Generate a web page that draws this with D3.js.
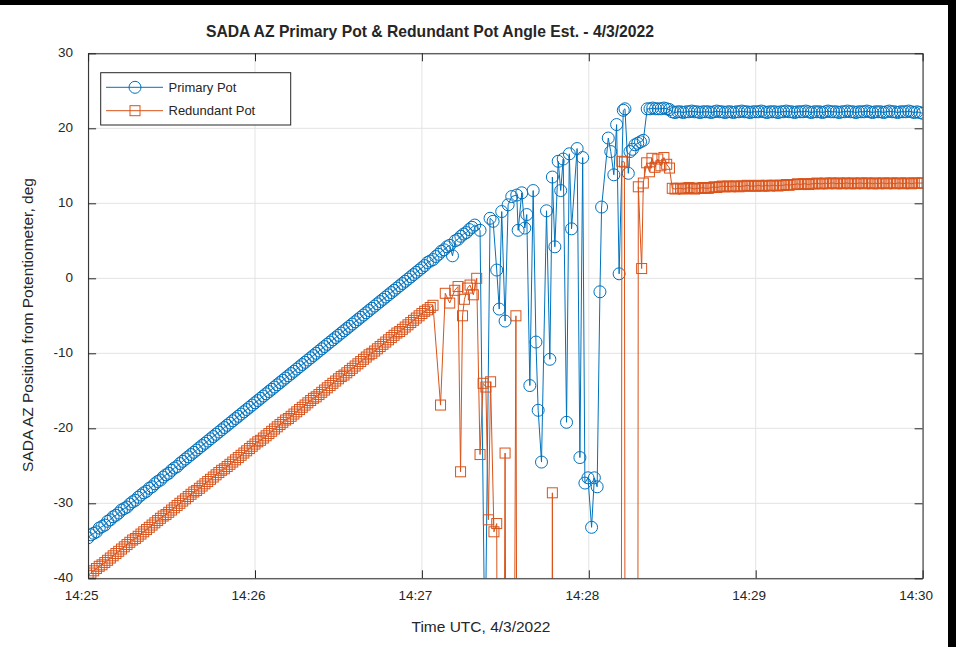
<!DOCTYPE html>
<html><head><meta charset="utf-8">
<script src="https://cdn.jsdelivr.net/npm/d3@7"></script>
<style>
body{margin:0;background:#fff}
svg{display:block}
text{font-family:"Liberation Sans",Arial,Helvetica,sans-serif;fill:#262626}
</style>
</head><body>
<svg id="chart" width="956" height="647"></svg>
<script>
// ---------------- DATA ----------------
const startTime = new Date(2022, 3, 3, 14, 25, 0);
const endTime = new Date(2022, 3, 3, 14, 30, 0);
const xTickLabels = ["14:25", "14:26", "14:27", "14:28", "14:29", "14:30"];
const yTickValues = [-40, -30, -20, -10, 0, 10, 20, 30];
const yTickLabels = ["-40", "-30", "-20", "-10", "0", "10", "20", "30"];
const seriesNames = ["Primary Pot", "Redundant Pot"];
const titleText = "SADA AZ Primary Pot & Redundant Pot Angle Est. - 4/3/2022";
const xLabelText = "Time UTC, 4/3/2022";
const yLabelText = "SADA AZ Position from Potentiometer, deg";

// Primary pot: 1-second samples from 14:25:00 (ramp)
const primaryRamp = [
 -34.6,-34.2,-34.0,-33.8,-33.3,-33.1,-32.9,-32.4,-32.2,-31.8,
 -31.6,-31.3,-30.9,-30.7,-30.5,-30.1,-29.8,-29.6,-29.2,-28.9,
 -28.6,-28.4,-28.0,-27.8,-27.4,-27.1,-26.9,-26.5,-26.2,-26.0,
 -25.6,-25.3,-25.1,-24.7,-24.4,-24.1,-23.8,-23.5,-23.2,-22.9,
 -22.6,-22.3,-22.0,-21.7,-21.4,-21.1,-20.8,-20.5,-20.2,-19.9,
 -19.6,-19.3,-19.0,-18.7,-18.4,-18.1,-17.8,-17.5,-17.2,-16.9,
 -16.6,-16.3,-16.0,-15.7,-15.4,-15.1,-14.8,-14.5,-14.2,-13.9,
 -13.6,-13.3,-13.0,-12.7,-12.4,-12.1,-11.8,-11.5,-11.2,-10.9,
 -10.6,-10.3,-10.0,-9.7,-9.4,-9.1,-8.8,-8.5,-8.2,-7.9,
 -7.6,-7.3,-7.0,-6.7,-6.4,-6.1,-5.8,-5.5,-5.2,-4.9,
 -4.6,-4.3,-4.0,-3.7,-3.4,-3.1,-2.8,-2.5,-2.2,-1.9,
 -1.6,-1.3,-1.0,-0.7,-0.4,-0.1,0.2,0.5,0.8,1.1,
 1.4,1.7,2.1,2.3,2.5,2.9,3.2,3.6,3.8,4.2,
 4.4,3.0,5.0,5.2,5.6,5.9,6.1,6.5,6.8,7.1
];
// Primary pot: erratic section (seconds after 14:25:00, value)
const primaryBurstSec = [
 140.9,142.7,144.5,145.6,146.9,147.8,148.7,149.9,151.0,152.3,
 154.1,154.6,155.9,157.0,157.7,158.8,160.0,161.0,161.8,163.0,
 164.8,166.0,166.9,167.8,169.0,169.9,170.8,172.0,173.0,173.8,
 175.8,176.8,177.8,178.6,179.7,181.0,182.0,183.0,184.0,184.6,
 187.0,187.9,189.0,190.0,190.9,192.4,193.0,194.2,194.8,195.7,
 196.6,197.6,198.6,199.6
];
const primaryBurstVal = [
 6.4,-51.6,8.0,7.6,1.1,-4.1,8.9,-5.7,9.8,10.9,
 11.1,6.4,11.4,6.7,8.5,-14.3,11.7,-8.5,-17.6,-24.5,
 9.0,-10.8,13.5,4.2,15.6,11.7,15.9,-19.2,16.6,6.6,
 17.3,-23.9,16.1,-27.3,-26.6,-33.2,-26.6,-27.8,-1.8,9.5,
 18.7,16.9,13.8,20.5,0.6,22.4,22.6,14.0,16.9,17.2,
 17.8,18.0,18.2,18.4
];
// Primary pot: 1-second samples from 14:28:21 (steady)
const primaryHoldStartSec = 201;
const primaryHold = [
 22.6,22.6,22.7,22.6,22.6,22.6,22.7,22.6,22.5,
 22.2,22.1,22.2,22.2,22.1,22.2,22.2,22.3,22.2,22.2,
 22.1,22.2,22.2,22.2,22.1,22.2,22.3,22.2,22.2,22.1,
 22.2,22.2,22.1,22.2,22.2,22.3,22.2,22.2,22.1,22.2,
 22.2,22.2,22.3,22.2,22.1,22.2,22.2,22.2,22.1,22.2,
 22.2,22.3,22.2,22.2,22.1,22.2,22.2,22.2,22.3,22.2,
 22.1,22.2,22.2,22.2,22.1,22.2,22.3,22.2,22.2,22.2,
 22.1,22.2,22.2,22.3,22.2,22.2,22.1,22.2,22.2,22.2,
 22.3,22.2,22.1,22.2,22.2,22.2,22.1,22.2,22.3,22.2,
 22.2,22.1,22.2,22.2,22.2,22.3,22.2,22.1,22.2,22.1,22.0
];

// Redundant pot: 1-second samples from 14:25:00 (ramp)
const redundantRamp = [
 -39.6,-39.3,-39.0,-38.7,-38.4,-38.2,-37.9,-37.6,-37.3,-37.0,
 -36.7,-36.4,-36.1,-35.8,-35.5,-35.2,-34.9,-34.7,-34.4,-34.1,
 -33.8,-33.5,-33.2,-32.9,-32.6,-32.3,-32.0,-31.7,-31.5,-31.2,
 -30.9,-30.6,-30.3,-30.0,-29.7,-29.4,-29.1,-28.8,-28.5,-28.3,
 -28.0,-27.7,-27.4,-27.1,-26.8,-26.5,-26.2,-25.9,-25.6,-25.4,
 -25.1,-24.8,-24.5,-24.2,-23.9,-23.6,-23.3,-23.0,-22.7,-22.4,
 -22.1,-21.8,-21.6,-21.3,-21.0,-20.7,-20.4,-20.1,-19.8,-19.5,
 -19.2,-18.9,-18.7,-18.4,-18.1,-17.8,-17.5,-17.2,-16.9,-16.6,
 -16.3,-16.0,-15.8,-15.5,-15.2,-14.9,-14.6,-14.3,-14.0,-13.7,
 -13.4,-13.1,-12.9,-12.6,-12.3,-12.0,-11.7,-11.4,-11.1,-10.8,
 -10.5,-10.2,-10.0,-9.7,-9.4,-9.1,-8.8,-8.5,-8.2,-7.9,
 -7.6,-7.3,-7.1,-6.8,-6.5,-6.2,-5.9,-5.6,-5.3,-5.0,
 -4.7,-4.4,-4.2,-3.9,-3.6
];
// Redundant pot: erratic section (seconds after 14:25:00, value)
const redundantBurstSec = [
 126.7,128.4,130.0,131.8,133.0,133.9,134.6,135.3,136.4,137.3,
 138.5,139.7,140.9,142.0,143.0,143.9,144.7,145.9,146.9,148.0,
 149.9,151.6,153.8,155.0,166.0,166.9,168.0,191.0,191.9,192.8,
 193.8,197.0,197.8,199.0,199.6,200.8,201.8,202.7,203.8,204.8,
 205.9,207.0,208.0,209.0
];
const redundantBurstVal = [
 -16.9,-2.0,-3.3,-1.6,-1.1,-25.8,-5.0,-2.8,-1.3,-0.9,
 -2.2,0.0,-23.5,-14.0,-14.5,-32.2,-13.8,-33.8,-32.7,-200,
 -23.3,-200,-5.0,-200,-200,-28.6,-200,-300,15.6,15.5,
 -300,-300,12.2,1.3,12.7,15.4,14.2,16.0,14.8,15.9,
 15.0,16.1,15.2,14.7
];
// Redundant pot: 1-second samples from 14:28:30 (steady)
const redundantHoldStartSec = 210;
const redundantHold = [
 12.0,11.9,12.0,12.0,11.9,12.0,12.1,12.0,11.9,12.0,
 12.0,12.1,12.0,12.0,12.1,12.2,12.1,12.2,12.3,12.2,
 12.3,12.2,12.3,12.3,12.2,12.3,12.3,12.4,12.3,12.3,
 12.3,12.4,12.3,12.3,12.4,12.3,12.4,12.4,12.3,12.4,
 12.4,12.5,12.4,12.5,12.5,12.6,12.5,12.6,12.6,12.5,
 12.6,12.6,12.7,12.6,12.6,12.7,12.6,12.7,12.7,12.6,
 12.7,12.6,12.7,12.7,12.6,12.7,12.6,12.7,12.7,12.6,
 12.7,12.7,12.6,12.7,12.6,12.7,12.7,12.6,12.7,12.7,
 12.6,12.7,12.7,12.6,12.7,12.7,12.6,12.7,12.7,12.7,12.7
];

// ---------------- BUILD ----------------
const sec = s => new Date(startTime.getTime() + s * 1000);
function buildSeries(ramp, bSec, bVal, holdStart, hold) {
  const pts = [];
  ramp.forEach((v, i) => pts.push({t: sec(i), v}));
  bSec.forEach((s, i) => pts.push({t: sec(s), v: bVal[i]}));
  hold.forEach((v, i) => pts.push({t: sec(holdStart + i), v}));
  return pts;
}
const primary = buildSeries(primaryRamp, primaryBurstSec, primaryBurstVal, primaryHoldStartSec, primaryHold);
const redundant = buildSeries(redundantRamp, redundantBurstSec, redundantBurstVal, redundantHoldStartSec, redundantHold);

const colors = ["#0072BD", "#D95319"];
const axisColor = "#262626";
const gridColor = "#e3e3e3";

const L = 88.1, R = 922.6, T = 53.3, B = 578.3;
const svg = d3.select("#chart");
svg.append("rect").attr("width", 956).attr("height", 647).attr("fill", "#fff");
// dark window frame visible at top and right edges of the reference
svg.append("rect").attr("x", 0).attr("y", 0).attr("width", 956).attr("height", 5).attr("fill", "#000");
svg.append("rect").attr("x", 948).attr("y", 0).attr("width", 8).attr("height", 647).attr("fill", "#000");

const x = d3.scaleTime().domain([startTime, endTime]).range([L, R]);
const y = d3.scaleLinear().domain([-40, 30]).range([B, T]);
const xTickDates = xTickLabels.map((_, i) => new Date(startTime.getTime() + i * 60000));

// grid
const grid = svg.append("g");
grid.selectAll("line.gx").data(xTickDates).join("line")
  .attr("x1", d => x(d)).attr("x2", d => x(d)).attr("y1", T).attr("y2", B)
  .attr("stroke", gridColor).attr("stroke-width", 1);
grid.selectAll("line.gy").data(yTickValues).join("line")
  .attr("y1", d => y(d)).attr("y2", d => y(d)).attr("x1", L).attr("x2", R)
  .attr("stroke", gridColor).attr("stroke-width", 1);

// clip
svg.append("clipPath").attr("id", "clip").append("rect")
  .attr("x", L).attr("y", T).attr("width", R - L).attr("height", B - T);

const plot = svg.append("g").attr("clip-path", "url(#clip)");
const line = d3.line().x(d => x(d.t)).y(d => y(d.v));

[primary, redundant].forEach((data, k) => {
  const g = plot.append("g");
  g.append("path").datum(data).attr("d", line).attr("fill", "none")
    .attr("stroke", colors[k]).attr("stroke-width", 1).attr("stroke-linejoin", "round");
  if (k === 0) {
    g.selectAll("circle").data(data).join("circle")
      .attr("cx", d => x(d.t)).attr("cy", d => y(d.v)).attr("r", 6)
      .attr("fill", "none").attr("stroke", colors[k]).attr("stroke-width", 1);
  } else {
    g.selectAll("rect").data(data).join("rect")
      .attr("x", d => x(d.t) - 5).attr("y", d => y(d.v) - 5)
      .attr("width", 10).attr("height", 10)
      .attr("fill", "none").attr("stroke", colors[k]).attr("stroke-width", 1);
  }
});

// axes
const xAxisB = d3.axisBottom(x).tickValues(xTickDates).tickFormat((d, i) => xTickLabels[i])
  .tickSizeInner(-8).tickSizeOuter(0).tickPadding(12);
const xAxisT = d3.axisTop(x).tickValues(xTickDates).tickFormat("").tickSizeInner(-8).tickSizeOuter(0);
const yAxisL = d3.axisLeft(y).tickValues(yTickValues).tickFormat((d, i) => yTickLabels[i])
  .tickSizeInner(-8).tickSizeOuter(0).tickPadding(15);
const yAxisR = d3.axisRight(y).tickValues(yTickValues).tickFormat("").tickSizeInner(-8).tickSizeOuter(0);

function style(g) {
  g.select(".domain").attr("stroke", axisColor).attr("stroke-width", 1);
  g.selectAll(".tick line").attr("stroke", axisColor).attr("stroke-width", 1);
  g.selectAll(".tick text").attr("fill", axisColor).style("font-size", "13.5px")
    .style("font-family", '"Liberation Sans", Arial, sans-serif');
}
const gxb = svg.append("g").attr("transform", `translate(0,${B})`).call(xAxisB).call(style);
gxb.selectAll(".tick text").attr("dx", "-7");
svg.append("g").attr("transform", `translate(0,${T})`).call(xAxisT).call(style);
const gyl = svg.append("g").attr("transform", `translate(${L},0)`).call(yAxisL).call(style);
gyl.selectAll(".tick text").attr("dy", "0.2em");
svg.append("g").attr("transform", `translate(${R},0)`).call(yAxisR).call(style);

// titles
svg.append("text").attr("x", 430).attr("y", 37).attr("text-anchor", "middle")
  .style("font-size", "15.7px").style("font-weight", "bold").attr("fill", "#000").text(titleText);
svg.append("text").attr("x", 481).attr("y", 632).attr("text-anchor", "middle")
  .style("font-size", "15.5px").text(xLabelText);
svg.append("text").attr("transform", "translate(33,325) rotate(-90)").attr("text-anchor", "middle")
  .style("font-size", "15.5px").text(yLabelText);

// legend
const lg = svg.append("g");
lg.append("rect").attr("x", 100.7).attr("y", 72.7).attr("width", 190).attr("height", 52.3)
  .attr("fill", "#fff").attr("stroke", axisColor).attr("stroke-width", 1);
const rows = [87.3, 110.7];
seriesNames.forEach((name, k) => {
  const yy = rows[k];
  lg.append("line").attr("x1", 106).attr("x2", 163).attr("y1", yy).attr("y2", yy)
    .attr("stroke", colors[k]).attr("stroke-width", 1);
  if (k === 0) lg.append("circle").attr("cx", 135).attr("cy", yy).attr("r", 6)
    .attr("fill", "none").attr("stroke", colors[k]).attr("stroke-width", 1);
  else lg.append("rect").attr("x", 130).attr("y", yy - 5).attr("width", 10).attr("height", 10)
    .attr("fill", "none").attr("stroke", colors[k]).attr("stroke-width", 1);
  lg.append("text").attr("x", 168.5).attr("y", yy + 4.5).style("font-size", "13px")
    .attr("fill", "#000").text(name);
});
</script>
</body></html>
